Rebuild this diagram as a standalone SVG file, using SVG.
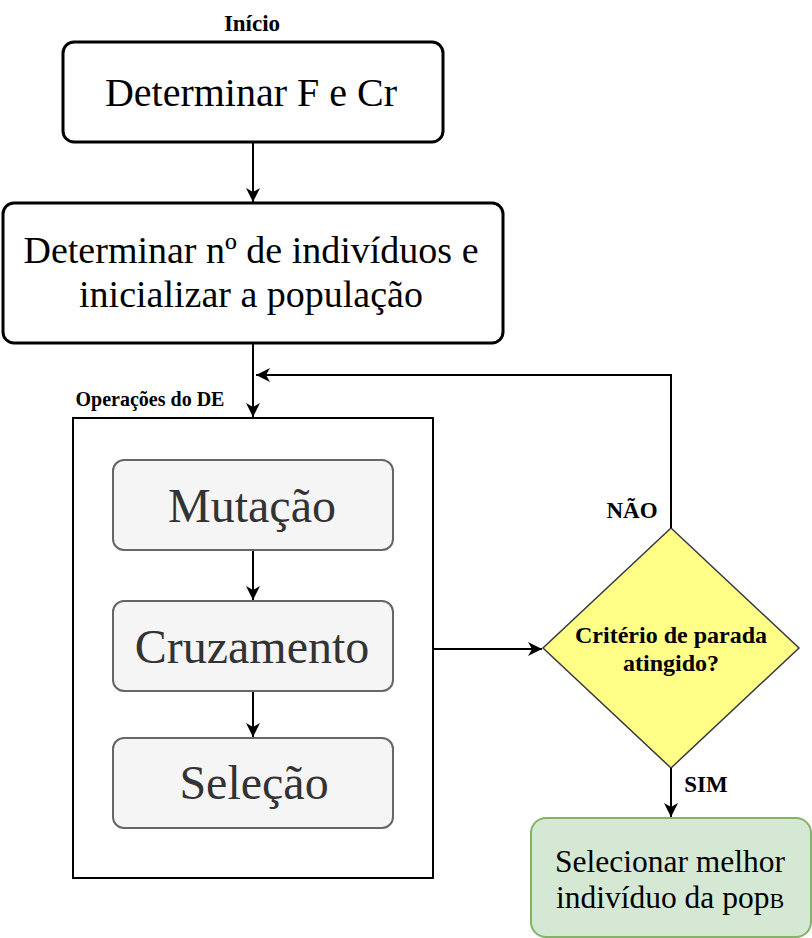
<svg xmlns="http://www.w3.org/2000/svg" width="812" height="938" viewBox="0 0 812 938">
<style>
text{font-family:"Liberation Serif","Times New Roman",serif;text-anchor:middle}
.lbl{font-weight:bold;fill:#000}
.conn{stroke:#000;stroke-width:2;fill:none}
.op rect{fill:#f5f5f5;stroke:#666666;stroke-width:2}
.op text{font-size:48px;fill:#333333}
</style>
<defs>
<marker id="arr" markerUnits="userSpaceOnUse" markerWidth="16" markerHeight="16" viewBox="0 0 16 16" refX="14" refY="8" orient="auto">
<path d="M0,1 L14,8 L0,15 L4,8 z" fill="#000"/>
</marker>
</defs>
<rect width="812" height="938" fill="#fff"/>
<g id="inicio">
<text class="lbl" x="252" y="31" font-size="23">Início</text>
</g>
<g id="n1">
<rect x="63" y="42" width="380" height="100" rx="11" fill="#fff" stroke="#000" stroke-width="3"/>
<text x="251" y="106" font-size="40">Determinar F e Cr</text>
</g>
<g id="n2">
<rect x="3" y="203" width="500" height="140" rx="11" fill="#fff" stroke="#000" stroke-width="3"/>
<text x="251" y="263" font-size="38">Determinar nº de indivíduos e</text>
<text x="251" y="307" font-size="38">inicializar a população</text>
</g>
<g id="container">
<rect x="73" y="418" width="360" height="460" fill="#fff" stroke="#000" stroke-width="2"/>
<text class="lbl" x="150" y="406" font-size="20">Operações do DE</text>
</g>
<g id="mutacao" class="op">
<rect x="113" y="460" width="280" height="90" rx="11"/>
<text x="252" y="522">Mutação</text>
</g>
<g id="cruzamento" class="op">
<rect x="113" y="601" width="280" height="90" rx="11"/>
<text x="252" y="663">Cruzamento</text>
</g>
<g id="selecao" class="op">
<rect x="113" y="738" width="280" height="90" rx="11"/>
<text x="254" y="799">Seleção</text>
</g>
<g id="decisao">
<polygon points="671,528 799,648 671,768 543,648" fill="#ffff88" stroke="#36393d" stroke-width="1.5"/>
<text class="lbl" x="671" y="643" font-size="24">Critério de parada</text>
<text class="lbl" x="671" y="671" font-size="24">atingido?</text>
</g>
<g id="selecionar">
<rect x="531" y="818" width="280" height="119" rx="15" fill="#d5e8d4" stroke="#82b366" stroke-width="2"/>
<text x="670" y="872" font-size="31.5">Selecionar melhor</text>
<text x="670" y="908" font-size="31.5">indivíduo da pop<tspan font-size="22">B</tspan></text>
</g>
<g id="connectors">
<line class="conn" x1="253" y1="142" x2="253" y2="202" marker-end="url(#arr)"/>
<line class="conn" x1="253" y1="343" x2="253" y2="417" marker-end="url(#arr)"/>
<line class="conn" x1="253" y1="551" x2="253" y2="600" marker-end="url(#arr)"/>
<line class="conn" x1="253" y1="692" x2="253" y2="737" marker-end="url(#arr)"/>
<line class="conn" x1="434" y1="649" x2="542" y2="649" marker-end="url(#arr)"/>
<polyline class="conn" points="671,528 671,375 256,375" marker-end="url(#arr)"/>
<line class="conn" x1="671" y1="768" x2="671" y2="817" marker-end="url(#arr)"/>
<text class="lbl" x="632" y="518" font-size="23">NÃO</text>
<text class="lbl" x="706" y="792" font-size="23">SIM</text>
</g>
</svg>
